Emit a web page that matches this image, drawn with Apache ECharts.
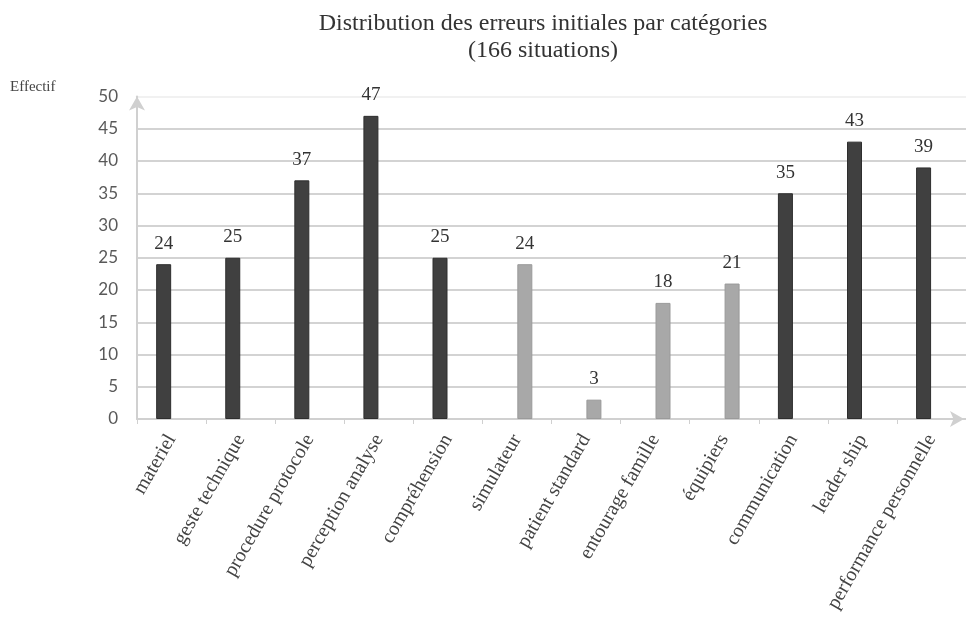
<!DOCTYPE html>
<html>
<head>
<meta charset="utf-8">
<script src="https://cdn.jsdelivr.net/npm/echarts@6/dist/echarts.min.js"></script>
<style>
  html, body { margin: 0; padding: 0; background: #fff; }
  #main { width: 966px; height: 627px; }
</style>
</head>
<body>
<div id="main"></div>
<script>
// catégories et effectifs
var categories = ['materiel', 'geste technique', 'procedure protocole', 'perception analyse',
    'compréhension', 'simulateur', 'patient standard', 'entourage famille',
    'équipiers', 'communication', 'leader ship', 'performance personnelle'];
// barres foncées
var darkValues = [24, 25, 37, 47, 25, null, null, null, null, 35, 43, 39];
// barres grises
var greyValues = [null, null, null, null, null, 24, 3, 18, 21, null, null, null];
var yTicks = [0, 5, 10, 15, 20, 25, 30, 35, 40, 45, 50];

var serif = '"Liberation Serif", "DejaVu Serif", serif';

// lignes de grille: la derniere (50) est presque invisible
var gridColors = yTicks.map(function (v, i) {
    return i === yTicks.length - 1 ? '#ececec' : '#c4c4c4';
});

var myChart = echarts.init(document.getElementById('main'));
var labelStyle = {
    show: true,
    position: 'top',
    distance: 11,
    fontFamily: serif,
    fontSize: 19,
    color: '#333'
};
var option = {
    animation: false,
    backgroundColor: '#fff',
    title: {
        text: 'Distribution des erreurs initiales par catégories\n(166 situations)',
        left: 538,
        top: 5,
        textAlign: 'center',
        textStyle: {
            fontFamily: serif,
            fontWeight: 'normal',
            fontSize: 24,
            lineHeight: 27,
            color: '#333'
        }
    },
    graphic: [{
        type: 'text',
        left: 10,
        top: 80,
        style: { text: 'Effectif', font: '15px "Liberation Serif", serif', fill: '#444' }
    }],
    grid: {
        left: 137,
        top: 96.5,
        width: 835,
        bottom: 208
    },
    xAxis: {
        type: 'category',
        data: categories,
        axisLine: {
            lineStyle: { color: '#d0d0d0', width: 2 },
            symbol: ['none', 'arrow'],
            symbolSize: [12, 14],
            symbolOffset: [0, -2]
        },
        axisTick: { show: true, length: 5, lineStyle: { color: '#d0d0d0' } },
        axisLabel: {
            rotate: 60,
            interval: 0,
            margin: 17,
            fontFamily: serif,
            fontSize: 20,
            color: '#444'
        }
    },
    yAxis: {
        type: 'value',
        min: yTicks[0],
        max: yTicks[yTicks.length - 1],
        interval: 5,
        axisLine: {
            show: true,
            lineStyle: { color: '#d0d0d0', width: 2 },
            symbol: ['none', 'arrow'],
            symbolSize: [12, 14]
        },
        axisTick: { show: false },
        axisLabel: {
            margin: 19,
            fontFamily: 'Lato, "Open Sans", sans-serif',
            fontSize: 17,
            color: '#595959'
        },
        splitLine: { lineStyle: { color: gridColors, width: 1.5 } }
    },
    series: [
        {
            type: 'bar',
            data: darkValues,
            barWidth: 15,
            barGap: '5%',
            itemStyle: { color: '#404040', borderColor: '#2e2e2e', borderWidth: 1 },
            label: labelStyle
        },
        {
            type: 'bar',
            data: greyValues,
            barWidth: 15,
            itemStyle: { color: '#a8a8a8', borderColor: '#9a9a9a', borderWidth: 1 },
            label: labelStyle
        }
    ]
};
myChart.setOption(option);
</script>
</body>
</html>
